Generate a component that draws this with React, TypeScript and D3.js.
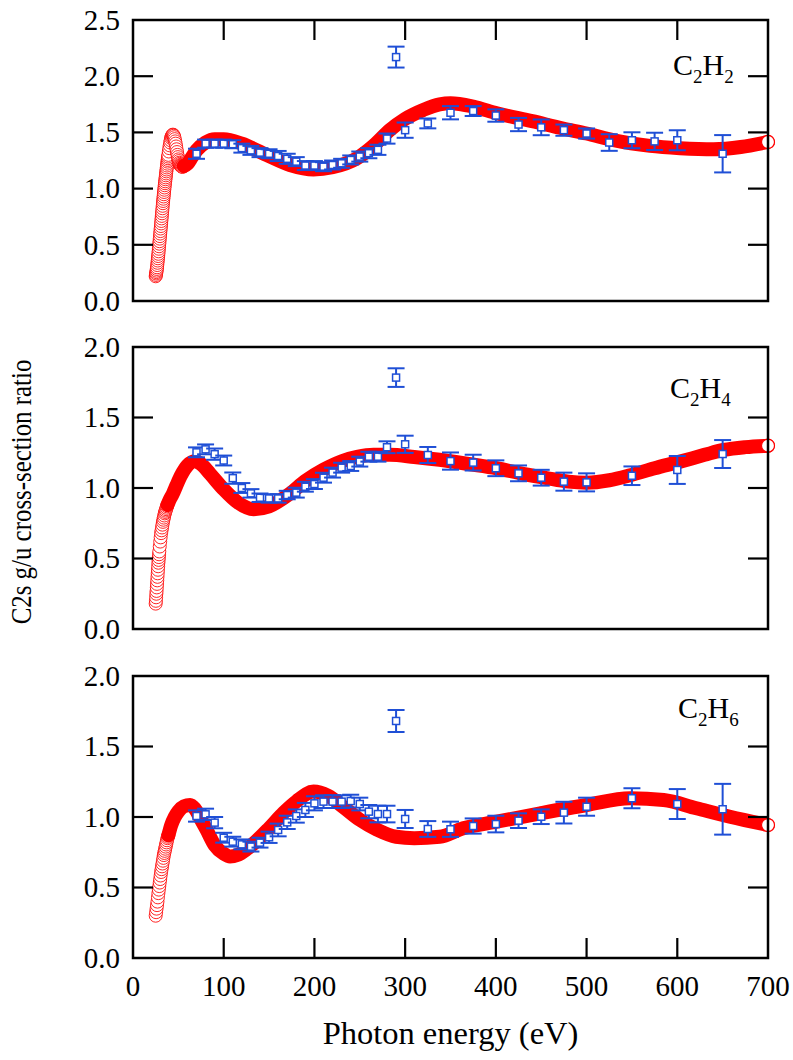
import React from "react";
import * as d3 from "d3";

// ---------- DATA ----------
const xTicks = [0, 100, 200, 300, 400, 500, 600, 700];

// Experimental energies / values / errors
const expE_C2H2 = [70, 80, 90, 100, 110, 120, 130, 140, 150, 160, 170, 180, 190, 200, 210, 220, 230, 240, 250, 260, 270, 280, 290, 300, 325, 350, 375, 400, 425, 450, 475, 500, 525, 550, 575, 600, 650];
const expV_C2H2 = [1.31, 1.40, 1.40, 1.40, 1.395, 1.36, 1.34, 1.32, 1.31, 1.29, 1.265, 1.24, 1.205, 1.205, 1.195, 1.21, 1.225, 1.255, 1.285, 1.315, 1.345, 1.445, 2.17, 1.52, 1.58, 1.675, 1.69, 1.65, 1.57, 1.545, 1.52, 1.49, 1.41, 1.43, 1.42, 1.43, 1.31];
const expErr_C2H2 = [0.045, 0.036, 0.036, 0.036, 0.036, 0.04, 0.04, 0.04, 0.04, 0.045, 0.045, 0.04, 0.04, 0.04, 0.04, 0.04, 0.04, 0.04, 0.045, 0.045, 0.045, 0.045, 0.093, 0.068, 0.044, 0.059, 0.044, 0.055, 0.059, 0.07, 0.05, 0.045, 0.074, 0.071, 0.077, 0.089, 0.166];

const expE_C2H4 = [70, 80, 90, 100, 110, 120, 130, 140, 150, 160, 170, 180, 190, 200, 210, 220, 230, 240, 250, 260, 270, 280, 290, 300, 325, 350, 375, 400, 425, 450, 475, 500, 550, 600, 650];
const expV_C2H4 = [1.253, 1.274, 1.24, 1.195, 1.07, 1.0, 0.962, 0.931, 0.926, 0.926, 0.95, 0.967, 1.009, 1.028, 1.073, 1.109, 1.144, 1.156, 1.187, 1.222, 1.222, 1.289, 1.783, 1.31, 1.234, 1.191, 1.18, 1.14, 1.104, 1.073, 1.045, 1.04, 1.087, 1.128, 1.241];
const expErr_C2H4 = [0.035, 0.035, 0.04, 0.035, 0.04, 0.035, 0.03, 0.03, 0.03, 0.03, 0.03, 0.035, 0.035, 0.035, 0.035, 0.035, 0.035, 0.035, 0.035, 0.035, 0.035, 0.042, 0.066, 0.061, 0.057, 0.061, 0.056, 0.056, 0.056, 0.056, 0.064, 0.064, 0.066, 0.099, 0.099];

const expE_C2H6 = [70, 80, 90, 100, 110, 120, 130, 140, 150, 160, 170, 180, 190, 200, 210, 220, 230, 240, 250, 260, 270, 280, 290, 300, 325, 350, 375, 400, 425, 450, 475, 500, 550, 600, 650];
const expV_C2H6 = [1.007, 1.019, 0.96, 0.853, 0.825, 0.806, 0.79, 0.818, 0.856, 0.908, 0.962, 1.007, 1.05, 1.097, 1.109, 1.109, 1.109, 1.113, 1.092, 1.038, 1.021, 1.021, 1.681, 0.986, 0.915, 0.913, 0.936, 0.95, 0.974, 1.002, 1.031, 1.073, 1.133, 1.092, 1.055];
const expErr_C2H6 = [0.04, 0.04, 0.04, 0.035, 0.035, 0.035, 0.035, 0.035, 0.04, 0.045, 0.047, 0.047, 0.05, 0.05, 0.045, 0.045, 0.045, 0.045, 0.045, 0.047, 0.059, 0.059, 0.078, 0.064, 0.056, 0.054, 0.054, 0.059, 0.052, 0.052, 0.077, 0.064, 0.071, 0.106, 0.18];

// Theory, low-energy part (open circles, individually visible)
const thRingE_C2H2 = [25, 25.25, 25.5, 25.75, 26, 26.25, 26.5, 26.75, 27, 27.25, 27.5, 27.75, 28, 28.25, 28.5, 28.75, 29, 29.25, 29.5, 29.75, 30, 30.25, 30.5, 30.75, 31, 31.25, 31.5, 31.75, 32, 32.25, 32.5, 32.75, 33, 33.25, 33.5, 33.75, 34, 34.25, 34.5, 34.75, 35, 35.25, 35.5, 35.75, 36, 36.25, 36.5, 36.75, 37, 37.25, 37.5, 37.75, 38, 38.25, 38.5, 38.75, 39, 39.5, 40, 40.5, 41, 41.5, 42, 42.5, 43, 43.5, 44, 44.5, 45, 45.5, 46, 46.5, 47, 47.5, 48, 48.5, 49, 49.5, 50, 50.5, 51, 51.5, 52, 52.5, 53, 53.5, 54, 55, 56];
const thRingV_C2H2 = [0.22, 0.232, 0.245, 0.257, 0.27, 0.285, 0.3, 0.32, 0.34, 0.36, 0.38, 0.4, 0.42, 0.442, 0.465, 0.487, 0.51, 0.532, 0.555, 0.577, 0.6, 0.622, 0.645, 0.667, 0.69, 0.712, 0.735, 0.757, 0.78, 0.802, 0.825, 0.847, 0.87, 0.89, 0.91, 0.93, 0.95, 0.97, 0.99, 1.01, 1.03, 1.048, 1.065, 1.083, 1.1, 1.118, 1.135, 1.153, 1.17, 1.188, 1.205, 1.222, 1.24, 1.255, 1.27, 1.285, 1.3, 1.33, 1.36, 1.385, 1.41, 1.43, 1.45, 1.46, 1.47, 1.477, 1.48, 1.477, 1.47, 1.457, 1.44, 1.42, 1.4, 1.375, 1.35, 1.325, 1.3, 1.28, 1.26, 1.245, 1.23, 1.22, 1.21, 1.205, 1.2, 1.197, 1.195, 1.195, 1.2];
// Theory, rest of the curve (dense circles merging into a band)
const thBandE_C2H2 = [56, 60, 65, 70, 80, 90, 100, 120, 147, 173, 199, 220, 247, 265, 283, 300, 320, 338, 350, 375, 401, 440, 474, 500, 530, 570, 603, 640, 670, 700];
const thBandV_C2H2 = [1.2, 1.22, 1.28, 1.34, 1.41, 1.44, 1.44, 1.4, 1.3, 1.21, 1.17, 1.19, 1.27, 1.38, 1.52, 1.62, 1.7, 1.75, 1.76, 1.73, 1.67, 1.6, 1.535, 1.49, 1.43, 1.38, 1.36, 1.35, 1.37, 1.415];

const thRingE_C2H4 = [25, 25.25, 25.5, 25.75, 26, 26.25, 26.5, 26.75, 27, 27.25, 27.5, 27.75, 28, 28.25, 28.5, 28.75, 29, 29.5, 30, 30.5, 31, 31.5, 32, 32.5, 33, 33.5, 34, 34.5, 35, 35.5, 36, 36.5, 37, 37.5, 38];
const thRingV_C2H4 = [0.18, 0.2, 0.225, 0.25, 0.27, 0.295, 0.32, 0.345, 0.37, 0.395, 0.42, 0.445, 0.47, 0.49, 0.51, 0.53, 0.55, 0.585, 0.62, 0.65, 0.68, 0.7, 0.72, 0.74, 0.76, 0.775, 0.79, 0.805, 0.82, 0.83, 0.84, 0.85, 0.86, 0.87, 0.88];
const thBandE_C2H4 = [38, 40, 44, 48, 53, 60, 68, 75, 85, 100, 115, 133, 150, 173, 190, 210, 230, 247, 265, 283, 310, 338, 370, 401, 430, 456, 480, 500, 525, 548, 575, 603, 630, 651, 675, 700];
const thBandV_C2H4 = [0.88, 0.91, 0.96, 1.02, 1.09, 1.16, 1.19, 1.17, 1.1, 0.99, 0.9, 0.85, 0.87, 0.96, 1.05, 1.13, 1.19, 1.22, 1.235, 1.235, 1.22, 1.2, 1.17, 1.14, 1.1, 1.07, 1.045, 1.038, 1.055, 1.09, 1.14, 1.187, 1.235, 1.27, 1.29, 1.3];

const thRingE_C2H6 = [25, 25.5, 26, 26.5, 27, 27.5, 28, 28.5, 29, 29.5, 30, 30.5, 31, 31.5, 32, 32.5, 33, 33.5, 34, 34.5, 35, 35.5, 36, 36.5, 37, 37.5, 38, 38.5, 39];
const thRingV_C2H6 = [0.3, 0.325, 0.35, 0.375, 0.4, 0.43, 0.46, 0.485, 0.51, 0.535, 0.56, 0.585, 0.61, 0.63, 0.65, 0.67, 0.69, 0.71, 0.73, 0.745, 0.76, 0.775, 0.79, 0.805, 0.82, 0.835, 0.85, 0.86, 0.87];
const thBandE_C2H6 = [39, 42, 46, 50, 56, 63, 68, 75, 81, 90, 100, 107, 115, 125, 136, 150, 166, 180, 199, 215, 232, 250, 269, 290, 310, 338, 364, 401, 449, 500, 548, 585, 621, 658, 700];
const thBandV_C2H6 = [0.87, 0.94, 1.0, 1.04, 1.075, 1.085, 1.06, 0.98, 0.91, 0.8, 0.74, 0.72, 0.73, 0.77, 0.83, 0.92, 1.03, 1.11, 1.18, 1.15, 1.07, 0.98, 0.91, 0.86, 0.85, 0.86, 0.92, 0.967, 1.026, 1.085, 1.133, 1.12, 1.062, 1.002, 0.943];

const yTicks1 = [0, 0.5, 1.0, 1.5, 2.0, 2.5];
const yTicks2 = [0, 0.5, 1.0, 1.5, 2.0];

// ---------- LAYOUT ----------
const W = 793;
const H = 1060;
const LEFT = 133;
const RIGHT = 768;
const RED = "#ff0000";
const BLUE = "#1f4fd6";
const FONT = "'Liberation Serif', 'Times New Roman', serif";

type Panel = {
  sub: string;
  top: number;
  bottom: number;
  ymax: number;
  yTicks: number[];
  topTicks: boolean;
  bottomTicks: boolean;
  labelX: number;
  labelY: number;
  ringE: number[];
  ringV: number[];
  bandE: number[];
  bandV: number[];
  expE: number[];
  expV: number[];
  expErr: number[];
};

const panels: Panel[] = [
  { sub: "2", top: 20, bottom: 301, ymax: 2.5, yTicks: yTicks1, topTicks: true, bottomTicks: false, labelX: 673, labelY: 75,
    ringE: thRingE_C2H2, ringV: thRingV_C2H2, bandE: thBandE_C2H2, bandV: thBandV_C2H2, expE: expE_C2H2, expV: expV_C2H2, expErr: expErr_C2H2 },
  { sub: "4", top: 347, bottom: 629, ymax: 2.0, yTicks: yTicks2, topTicks: false, bottomTicks: false, labelX: 670, labelY: 398,
    ringE: thRingE_C2H4, ringV: thRingV_C2H4, bandE: thBandE_C2H4, bandV: thBandV_C2H4, expE: expE_C2H4, expV: expV_C2H4, expErr: expErr_C2H4 },
  { sub: "6", top: 676, bottom: 958, ymax: 2.0, yTicks: yTicks2, topTicks: false, bottomTicks: true, labelX: 678, labelY: 718,
    ringE: thRingE_C2H6, ringV: thRingV_C2H6, bandE: thBandE_C2H6, bandV: thBandV_C2H6, expE: expE_C2H6, expV: expV_C2H6, expErr: expErr_C2H6 },
];

const x = d3.scaleLinear().domain([0, 700]).range([LEFT, RIGHT]);
const fmt = d3.format(".1f");
const TICK = 20;
const R = 6.5;

function PanelView({ p }: { p: Panel }) {
  const y = d3.scaleLinear().domain([0, p.ymax]).range([p.bottom, p.top]);
  const band = d3
    .line<number>()
    .x((_, i) => x(p.bandE[i]))
    .y((v) => y(v))
    .curve(d3.curveMonotoneX)(p.bandV) as string;
  const innerY = p.yTicks.filter((t) => t > 0 && t < p.ymax);
  const innerX = xTicks.filter((t) => t > 0 && t < 700);
  const lastE = p.bandE[p.bandE.length - 1];
  const lastV = p.bandV[p.bandV.length - 1];
  return (
    <g>
      {p.ringE.map((e, i) => (
        <circle key={"r" + i} cx={x(e)} cy={y(p.ringV[i])} r={R} fill="#fff" stroke={RED} strokeWidth={0.85} />
      ))}
      <path d={band} fill="none" stroke={RED} strokeWidth={2 * R + 1} strokeLinecap="round" strokeLinejoin="round" />
      <circle cx={x(lastE)} cy={y(lastV)} r={R} fill="#fff" stroke={RED} strokeWidth={1.2} />
      {p.expE.map((e, i) => {
        const cx = x(e);
        const cy = y(p.expV[i]);
        const y1 = y(p.expV[i] + p.expErr[i]);
        const y2 = y(p.expV[i] - p.expErr[i]);
        return (
          <g key={"e" + i} stroke={BLUE} strokeWidth={2}>
            <line x1={cx} x2={cx} y1={y1} y2={y2} />
            <line x1={cx - 8.5} x2={cx + 8.5} y1={y1} y2={y1} />
            <line x1={cx - 8.5} x2={cx + 8.5} y1={y2} y2={y2} />
            <rect x={cx - 3.5} y={cy - 3.5} width={7} height={7} fill="#fff" strokeWidth={1.5} />
          </g>
        );
      })}
      <rect x={LEFT} y={p.top} width={RIGHT - LEFT} height={p.bottom - p.top} fill="none" stroke="#000" strokeWidth={2.5} />
      {innerY.map((t) => (
        <g key={"yt" + t} stroke="#000" strokeWidth={2.2}>
          <line x1={LEFT} x2={LEFT + TICK} y1={y(t)} y2={y(t)} />
          <line x1={RIGHT} x2={RIGHT - TICK} y1={y(t)} y2={y(t)} />
        </g>
      ))}
      {p.topTicks &&
        innerX.map((t) => <line key={"tt" + t} x1={x(t)} x2={x(t)} y1={p.top} y2={p.top + TICK} stroke="#000" strokeWidth={2.2} />)}
      {p.bottomTicks &&
        innerX.map((t) => <line key={"bt" + t} x1={x(t)} x2={x(t)} y1={p.bottom} y2={p.bottom - TICK} stroke="#000" strokeWidth={2.2} />)}
      {p.yTicks.map((t) => (
        <text key={"yl" + t} x={120} y={y(t)} dy="0.34em" textAnchor="end" fontSize={29} fontFamily={FONT} fill="#000">
          {fmt(t)}
        </text>
      ))}
      <text x={p.labelX} y={p.labelY} fontSize={30} fontFamily={FONT} fill="#000">
        C<tspan fontSize={19} dy={8}>2</tspan>
        <tspan dy={-8}>H</tspan>
        <tspan fontSize={19} dy={8}>{p.sub}</tspan>
      </text>
    </g>
  );
}

export default function App() {
  return (
    <svg width={W} height={H} style={{ position: "absolute", left: 0, top: 0, display: "block", background: "#fff" }}>
      <rect x={0} y={0} width={W} height={H} fill="#fff" />
      {panels.map((p, i) => (
        <PanelView key={i} p={p} />
      ))}
      {xTicks.map((t) => (
        <text key={"xl" + t} x={x(t)} y={996} textAnchor="middle" fontSize={29} fontFamily={FONT} fill="#000">
          {t}
        </text>
      ))}
      <text x={(LEFT + RIGHT) / 2} y={1044} textAnchor="middle" fontSize={32.5} fontFamily={FONT} fill="#000">
        Photon energy (eV)
      </text>
      <text transform="translate(31, 492) rotate(-90) scale(0.83, 1)" textAnchor="middle" fontSize={30} fontFamily={FONT} fill="#000">
        C2s g/u cross-section ratio
      </text>
    </svg>
  );
}
